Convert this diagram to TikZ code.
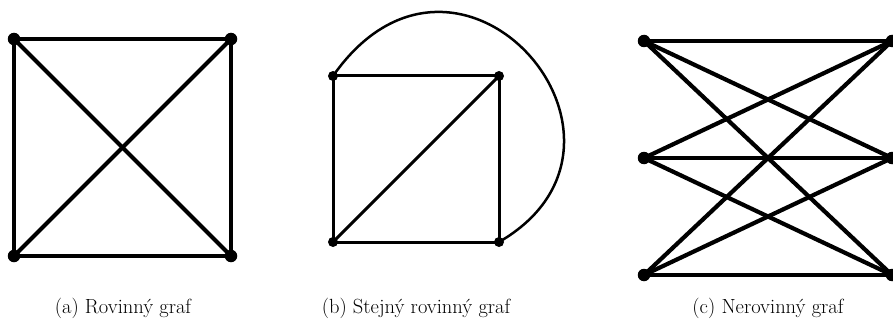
\documentclass[tikz,border=0pt]{standalone}
\begin{document}
\begin{tikzpicture}[x=1pt,y=-1pt,
  thickedge/.style={line width=4.2pt},
  thinedge/.style={line width=3pt},
  arcedge/.style={line width=2.5pt},
  bigdot/.style={circle,fill=black,inner sep=0pt,minimum size=12.5pt},
  smalldot/.style={circle,fill=black,inner sep=0pt,minimum size=10pt},
  caption/.style={anchor=base,inner sep=0pt,font=\fontsize{20.5}{24}\selectfont}]
\useasboundingbox (0,0) rectangle (893,326);
% (a)
\coordinate (a1) at (14,39);
\coordinate (a2) at (231,39);
\coordinate (a3) at (14,256);
\coordinate (a4) at (231,256);
\draw[thickedge] (a1) -- (a2) -- (a4) -- (a3) -- cycle;
\draw[thickedge] (a1) -- (a4);
\draw[thickedge] (a2) -- (a3);
\foreach \v in {a1,a2,a3,a4} \node[bigdot] at (\v) {};
% (b)
\coordinate (b1) at (333,76);
\coordinate (b2) at (499,76);
\coordinate (b3) at (333,242);
\coordinate (b4) at (499,242);
\draw[thinedge] (b1) -- (b2) -- (b4) -- (b3) -- cycle;
\draw[thinedge] (b3) -- (b2);
\draw[arcedge] (b1) .. controls (459,-104) and (672,142) .. (b4);
\foreach \v in {b1,b2,b3,b4} \node[smalldot] at (\v) {};
% (c)
\coordinate (c1) at (644,41);
\coordinate (c2) at (644,158);
\coordinate (c3) at (644,275);
\coordinate (d1) at (892,41);
\coordinate (d2) at (892,158);
\coordinate (d3) at (892,275);
\foreach \l in {c1,c2,c3} \foreach \r in {d1,d2,d3} \draw[thickedge] (\l) -- (\r);
\foreach \v in {c1,c2,c3,d1,d2,d3} \node[bigdot] at (\v) {};
% captions
\node[caption] (capa) at (123,313) {(a) Rovinný graf};
\node[caption] (capb) at (416,313) {(b) Stejný rovinný graf};
\node[caption] (capc) at (768,313) {(c) Nerovinný graf};
\end{tikzpicture}
\end{document}
